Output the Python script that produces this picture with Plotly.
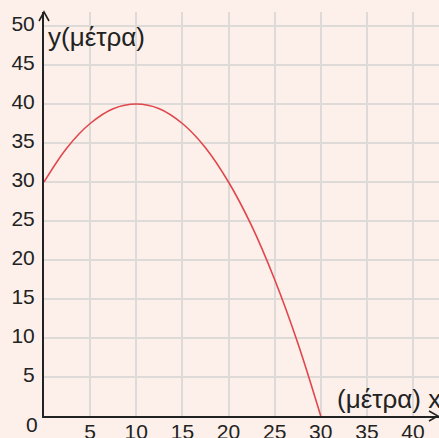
import plotly.graph_objects as go

# Trajectory of the thrown object: horizontal distance x (m) vs height y (m)
x_m = [0, 2.5, 5, 7.5, 10, 12.5, 15, 17.5, 20, 22.5, 25, 27.5, 30]
y_m = [30, 34.4, 37.5, 39.4, 40, 39.4, 37.5, 34.4, 30, 24.4, 17.5, 9.4, 0]

x_ticks = [5, 10, 15, 20, 25, 30, 35, 40]
y_ticks = [5, 10, 15, 20, 25, 30, 35, 40, 45, 50]

W, H = 439, 438
L, R, T, B = 44, 0, 12, 22
PW, PH = W - L - R, H - T - B

BG = "#fdf0ea"
GRID = "#dedad8"
AXIS = "#222222"
CURVE = "#e0464b"
FONT = "Arial, Liberation Sans, sans-serif"
TICK_SIZE = 21
TITLE_SIZE = 26


def px_x(p):
    return (p - L) / PW


def px_y(p):
    return (H - B - p) / PH


fig = go.Figure()
fig.add_trace(go.Scatter(
    x=x_m, y=y_m, mode="lines",
    line=dict(color=CURVE, width=1.6, shape="spline", smoothing=1.0),
    hoverinfo="skip", showlegend=False,
))

axis_common = dict(
    showgrid=True, gridcolor=GRID, gridwidth=2,
    zeroline=False, showline=True, linecolor=AXIS, linewidth=2,
    ticks="", tickfont=dict(family=FONT, size=TICK_SIZE, color=AXIS),
    fixedrange=True, automargin=False,
)

fig.update_xaxes(range=[0, PW / 9.225], tickvals=x_ticks,
                 ticktext=[str(v) for v in x_ticks], ticklabelstandoff=-4,
                 **axis_common)
fig.update_yaxes(range=[0, PH / 7.8], tickvals=y_ticks,
                 ticktext=[str(v) for v in y_ticks], ticklabelstandoff=3,
                 ticklabelshift=-2, **axis_common)

# Arrowheads on both axes (open chevrons)
fig.add_shape(type="path", xref="paper", yref="paper",
              path=f"M {px_x(39)} {px_y(21)} L {px_x(44)} {px_y(12)} L {px_x(49)} {px_y(21)}",
              line=dict(color=AXIS, width=1.6))
fig.add_shape(type="path", xref="paper", yref="paper",
              path=f"M {px_x(429)} {px_y(411)} L {px_x(438)} {px_y(416)} L {px_x(429)} {px_y(421)}",
              line=dict(color=AXIS, width=1.6))

annotations = [
    dict(text="y(μέτρα)", xref="paper", yref="paper", x=px_x(46), y=px_y(37),
         xanchor="left", yanchor="middle", showarrow=False,
         font=dict(family=FONT, size=TITLE_SIZE, color=AXIS)),
    dict(text="(μέτρα) x", xref="paper", yref="paper", x=px_x(443), y=px_y(399),
         xanchor="right", yanchor="middle", showarrow=False,
         font=dict(family=FONT, size=TITLE_SIZE, color=AXIS)),
    dict(text="0", xref="paper", yref="y", x=0, y=0, xanchor="right",
         yanchor="middle", xshift=-4, yshift=-8, showarrow=False,
         font=dict(family=FONT, size=TICK_SIZE, color=AXIS)),
]

fig.update_layout(
    width=W, height=H, margin=dict(l=L, r=R, t=T, b=B, pad=0),
    paper_bgcolor=BG, plot_bgcolor=BG,
    annotations=annotations, showlegend=False,
)

fig.write_html("out.html", config={"displayModeBar": False})
